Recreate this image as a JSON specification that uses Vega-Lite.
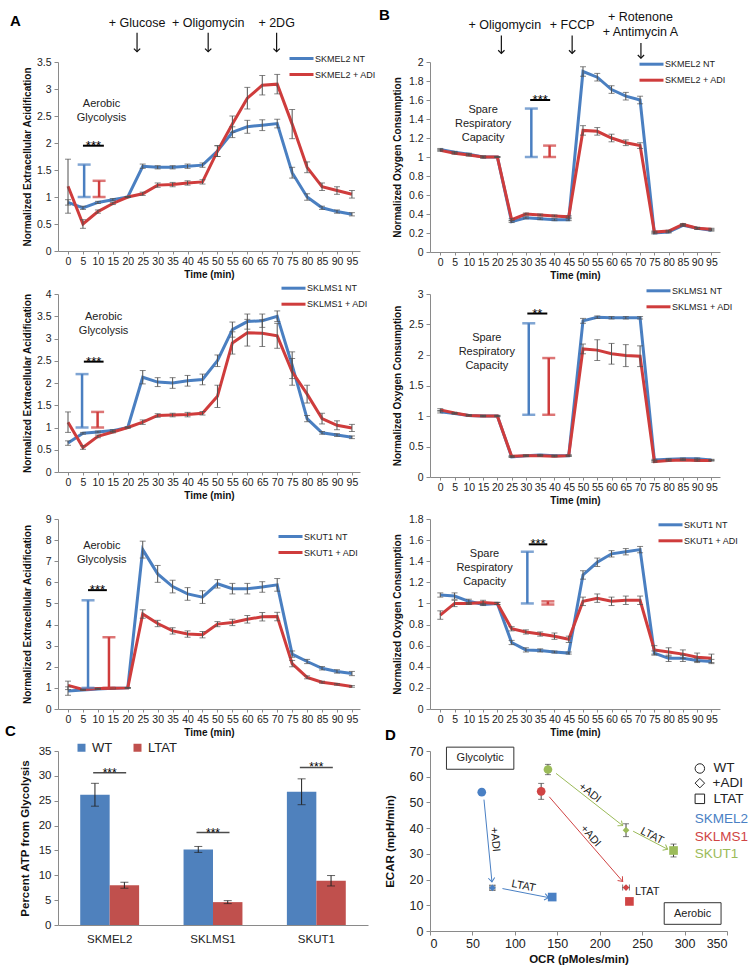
{
"$schema": "https://vega.github.io/schema/vega-lite/v6.json",
"padding": {"left": 5, "top": 8, "right": 0, "bottom": 0},
"columns": 2,
"bounds": "flush",
"align": "each",
"spacing": {"row": 42, "column": 62},
"resolve": {"scale": {"color": "independent"}, "legend": {"color": "independent"}},
"config": {
 "font": "Liberation Sans",
 "view": {"stroke": null},
 "axis": {"grid": false, "domainColor": "#8a8a8a", "tickColor": "#8a8a8a", "labelColor": "#222222", "titleColor": "#111111", "titleFontWeight": "bold", "labelFont": "Liberation Sans", "titleFont": "Liberation Sans", "labelOverlap": false},
 "legend": {"labelFont": "Liberation Sans", "labelColor": "#222222"},
 "title": {"font": "Liberation Sans", "fontWeight": "bold", "fontSize": 15, "color": "#000000", "anchor": "start", "frame": "group"}
},
"datasets": {
 "a1": [
  {"t":0,"s":"NT","v":0.9,"e":0.05},{"t":5,"s":"NT","v":0.8,"e":0.03},{"t":10,"s":"NT","v":0.9,"e":0.02},{"t":15,"s":"NT","v":0.95,"e":0.02},{"t":20,"s":"NT","v":1.0,"e":0.01},{"t":25,"s":"NT","v":1.57,"e":0.04},{"t":30,"s":"NT","v":1.55,"e":0.03},{"t":35,"s":"NT","v":1.55,"e":0.03},{"t":40,"s":"NT","v":1.57,"e":0.04},{"t":45,"s":"NT","v":1.59,"e":0.04},{"t":50,"s":"NT","v":1.85,"e":0.1},{"t":55,"s":"NT","v":2.2,"e":0.1},{"t":60,"s":"NT","v":2.3,"e":0.12},{"t":65,"s":"NT","v":2.33,"e":0.1},{"t":70,"s":"NT","v":2.36,"e":0.08},{"t":75,"s":"NT","v":1.45,"e":0.1},{"t":80,"s":"NT","v":1.0,"e":0.06},{"t":85,"s":"NT","v":0.8,"e":0.03},{"t":90,"s":"NT","v":0.73,"e":0.03},{"t":95,"s":"NT","v":0.68,"e":0.03},
  {"t":0,"s":"+ ADI","v":1.2,"e":0.5},{"t":5,"s":"+ ADI","v":0.5,"e":0.08},{"t":10,"s":"+ ADI","v":0.73,"e":0.03},{"t":15,"s":"+ ADI","v":0.88,"e":0.02},{"t":20,"s":"+ ADI","v":1.0,"e":0.01},{"t":25,"s":"+ ADI","v":1.06,"e":0.03},{"t":30,"s":"+ ADI","v":1.22,"e":0.04},{"t":35,"s":"+ ADI","v":1.23,"e":0.04},{"t":40,"s":"+ ADI","v":1.26,"e":0.04},{"t":45,"s":"+ ADI","v":1.28,"e":0.04},{"t":50,"s":"+ ADI","v":1.85,"e":0.1},{"t":55,"s":"+ ADI","v":2.35,"e":0.15},{"t":60,"s":"+ ADI","v":2.83,"e":0.2},{"t":65,"s":"+ ADI","v":3.07,"e":0.18},{"t":70,"s":"+ ADI","v":3.09,"e":0.18},{"t":75,"s":"+ ADI","v":2.35,"e":0.27},{"t":80,"s":"+ ADI","v":1.55,"e":0.1},{"t":85,"s":"+ ADI","v":1.19,"e":0.07},{"t":90,"s":"+ ADI","v":1.12,"e":0.07},{"t":95,"s":"+ ADI","v":1.05,"e":0.07}
 ],
 "a2": [
  {"t":0,"s":"NT","v":0.65,"e":0.05},{"t":5,"s":"NT","v":0.87,"e":0.02},{"t":10,"s":"NT","v":0.9,"e":0.02},{"t":15,"s":"NT","v":0.93,"e":0.02},{"t":20,"s":"NT","v":1.0,"e":0.01},{"t":25,"s":"NT","v":2.13,"e":0.15},{"t":30,"s":"NT","v":2.02,"e":0.1},{"t":35,"s":"NT","v":2.0,"e":0.12},{"t":40,"s":"NT","v":2.05,"e":0.12},{"t":45,"s":"NT","v":2.08,"e":0.12},{"t":50,"s":"NT","v":2.5,"e":0.13},{"t":55,"s":"NT","v":3.2,"e":0.17},{"t":60,"s":"NT","v":3.38,"e":0.17},{"t":65,"s":"NT","v":3.4,"e":0.15},{"t":70,"s":"NT","v":3.5,"e":0.12},{"t":75,"s":"NT","v":2.4,"e":0.3},{"t":80,"s":"NT","v":1.2,"e":0.07},{"t":85,"s":"NT","v":0.88,"e":0.03},{"t":90,"s":"NT","v":0.83,"e":0.03},{"t":95,"s":"NT","v":0.78,"e":0.03},
  {"t":0,"s":"+ ADI","v":1.12,"e":0.23},{"t":5,"s":"+ ADI","v":0.55,"e":0.04},{"t":10,"s":"+ ADI","v":0.8,"e":0.03},{"t":15,"s":"+ ADI","v":0.9,"e":0.02},{"t":20,"s":"+ ADI","v":1.0,"e":0.01},{"t":25,"s":"+ ADI","v":1.12,"e":0.05},{"t":30,"s":"+ ADI","v":1.27,"e":0.04},{"t":35,"s":"+ ADI","v":1.28,"e":0.04},{"t":40,"s":"+ ADI","v":1.29,"e":0.05},{"t":45,"s":"+ ADI","v":1.32,"e":0.04},{"t":50,"s":"+ ADI","v":1.7,"e":0.25},{"t":55,"s":"+ ADI","v":2.9,"e":0.25},{"t":60,"s":"+ ADI","v":3.13,"e":0.3},{"t":65,"s":"+ ADI","v":3.12,"e":0.3},{"t":70,"s":"+ ADI","v":3.06,"e":0.28},{"t":75,"s":"+ ADI","v":2.25,"e":0.3},{"t":80,"s":"+ ADI","v":1.75,"e":0.2},{"t":85,"s":"+ ADI","v":1.2,"e":0.12},{"t":90,"s":"+ ADI","v":1.05,"e":0.1},{"t":95,"s":"+ ADI","v":0.99,"e":0.08}
 ],
 "a3": [
  {"t":0,"s":"NT","v":0.85,"e":0.2},{"t":5,"s":"NT","v":0.9,"e":0.02},{"t":10,"s":"NT","v":0.95,"e":0.02},{"t":15,"s":"NT","v":0.98,"e":0.02},{"t":20,"s":"NT","v":1.0,"e":0.02},{"t":25,"s":"NT","v":7.55,"e":0.4},{"t":30,"s":"NT","v":6.4,"e":0.4},{"t":35,"s":"NT","v":5.8,"e":0.3},{"t":40,"s":"NT","v":5.45,"e":0.3},{"t":45,"s":"NT","v":5.3,"e":0.3},{"t":50,"s":"NT","v":5.93,"e":0.2},{"t":55,"s":"NT","v":5.7,"e":0.25},{"t":60,"s":"NT","v":5.7,"e":0.25},{"t":65,"s":"NT","v":5.78,"e":0.25},{"t":70,"s":"NT","v":5.88,"e":0.3},{"t":75,"s":"NT","v":2.6,"e":0.15},{"t":80,"s":"NT","v":2.25,"e":0.1},{"t":85,"s":"NT","v":1.93,"e":0.08},{"t":90,"s":"NT","v":1.78,"e":0.08},{"t":95,"s":"NT","v":1.68,"e":0.1},
  {"t":0,"s":"+ ADI","v":1.12,"e":0.2},{"t":5,"s":"+ ADI","v":0.93,"e":0.02},{"t":10,"s":"+ ADI","v":0.97,"e":0.02},{"t":15,"s":"+ ADI","v":0.98,"e":0.02},{"t":20,"s":"+ ADI","v":1.0,"e":0.02},{"t":25,"s":"+ ADI","v":4.5,"e":0.2},{"t":30,"s":"+ ADI","v":4.05,"e":0.15},{"t":35,"s":"+ ADI","v":3.7,"e":0.15},{"t":40,"s":"+ ADI","v":3.55,"e":0.15},{"t":45,"s":"+ ADI","v":3.52,"e":0.15},{"t":50,"s":"+ ADI","v":4.02,"e":0.12},{"t":55,"s":"+ ADI","v":4.1,"e":0.15},{"t":60,"s":"+ ADI","v":4.25,"e":0.18},{"t":65,"s":"+ ADI","v":4.37,"e":0.2},{"t":70,"s":"+ ADI","v":4.38,"e":0.2},{"t":75,"s":"+ ADI","v":2.15,"e":0.15},{"t":80,"s":"+ ADI","v":1.5,"e":0.07},{"t":85,"s":"+ ADI","v":1.27,"e":0.05},{"t":90,"s":"+ ADI","v":1.17,"e":0.04},{"t":95,"s":"+ ADI","v":1.07,"e":0.04}
 ],
 "b1": [
  {"t":0,"s":"NT","v":1.08,"e":0.01},{"t":5,"s":"NT","v":1.05,"e":0.01},{"t":10,"s":"NT","v":1.03,"e":0.01},{"t":15,"s":"NT","v":1.0,"e":0.01},{"t":20,"s":"NT","v":1.0,"e":0.005},{"t":25,"s":"NT","v":0.32,"e":0.01},{"t":30,"s":"NT","v":0.36,"e":0.01},{"t":35,"s":"NT","v":0.35,"e":0.01},{"t":40,"s":"NT","v":0.34,"e":0.01},{"t":45,"s":"NT","v":0.34,"e":0.01},{"t":50,"s":"NT","v":1.9,"e":0.05},{"t":55,"s":"NT","v":1.84,"e":0.04},{"t":60,"s":"NT","v":1.71,"e":0.04},{"t":65,"s":"NT","v":1.64,"e":0.04},{"t":70,"s":"NT","v":1.6,"e":0.04},{"t":75,"s":"NT","v":0.2,"e":0.01},{"t":80,"s":"NT","v":0.21,"e":0.01},{"t":85,"s":"NT","v":0.28,"e":0.01},{"t":90,"s":"NT","v":0.25,"e":0.01},{"t":95,"s":"NT","v":0.23,"e":0.01},
  {"t":0,"s":"+ ADI","v":1.07,"e":0.01},{"t":5,"s":"+ ADI","v":1.04,"e":0.01},{"t":10,"s":"+ ADI","v":1.02,"e":0.01},{"t":15,"s":"+ ADI","v":1.0,"e":0.01},{"t":20,"s":"+ ADI","v":1.0,"e":0.005},{"t":25,"s":"+ ADI","v":0.34,"e":0.01},{"t":30,"s":"+ ADI","v":0.4,"e":0.01},{"t":35,"s":"+ ADI","v":0.39,"e":0.01},{"t":40,"s":"+ ADI","v":0.38,"e":0.01},{"t":45,"s":"+ ADI","v":0.37,"e":0.01},{"t":50,"s":"+ ADI","v":1.28,"e":0.05},{"t":55,"s":"+ ADI","v":1.27,"e":0.04},{"t":60,"s":"+ ADI","v":1.2,"e":0.04},{"t":65,"s":"+ ADI","v":1.15,"e":0.03},{"t":70,"s":"+ ADI","v":1.12,"e":0.03},{"t":75,"s":"+ ADI","v":0.21,"e":0.01},{"t":80,"s":"+ ADI","v":0.22,"e":0.01},{"t":85,"s":"+ ADI","v":0.29,"e":0.01},{"t":90,"s":"+ ADI","v":0.25,"e":0.01},{"t":95,"s":"+ ADI","v":0.24,"e":0.01}
 ],
 "b2": [
  {"t":0,"s":"NT","v":1.07,"e":0.02},{"t":5,"s":"NT","v":1.04,"e":0.01},{"t":10,"s":"NT","v":1.01,"e":0.01},{"t":15,"s":"NT","v":1.0,"e":0.01},{"t":20,"s":"NT","v":1.0,"e":0.01},{"t":25,"s":"NT","v":0.33,"e":0.01},{"t":30,"s":"NT","v":0.35,"e":0.01},{"t":35,"s":"NT","v":0.36,"e":0.01},{"t":40,"s":"NT","v":0.35,"e":0.01},{"t":45,"s":"NT","v":0.35,"e":0.01},{"t":50,"s":"NT","v":2.56,"e":0.04},{"t":55,"s":"NT","v":2.62,"e":0.02},{"t":60,"s":"NT","v":2.61,"e":0.02},{"t":65,"s":"NT","v":2.61,"e":0.02},{"t":70,"s":"NT","v":2.61,"e":0.02},{"t":75,"s":"NT","v":0.28,"e":0.01},{"t":80,"s":"NT","v":0.29,"e":0.01},{"t":85,"s":"NT","v":0.3,"e":0.01},{"t":90,"s":"NT","v":0.3,"e":0.01},{"t":95,"s":"NT","v":0.28,"e":0.01},
  {"t":0,"s":"+ ADI","v":1.1,"e":0.02},{"t":5,"s":"+ ADI","v":1.05,"e":0.01},{"t":10,"s":"+ ADI","v":1.01,"e":0.01},{"t":15,"s":"+ ADI","v":1.0,"e":0.01},{"t":20,"s":"+ ADI","v":1.0,"e":0.01},{"t":25,"s":"+ ADI","v":0.34,"e":0.01},{"t":30,"s":"+ ADI","v":0.35,"e":0.01},{"t":35,"s":"+ ADI","v":0.35,"e":0.01},{"t":40,"s":"+ ADI","v":0.34,"e":0.01},{"t":45,"s":"+ ADI","v":0.35,"e":0.01},{"t":50,"s":"+ ADI","v":2.1,"e":0.08},{"t":55,"s":"+ ADI","v":2.08,"e":0.17},{"t":60,"s":"+ ADI","v":2.02,"e":0.17},{"t":65,"s":"+ ADI","v":1.99,"e":0.18},{"t":70,"s":"+ ADI","v":1.98,"e":0.17},{"t":75,"s":"+ ADI","v":0.25,"e":0.01},{"t":80,"s":"+ ADI","v":0.27,"e":0.01},{"t":85,"s":"+ ADI","v":0.28,"e":0.01},{"t":90,"s":"+ ADI","v":0.27,"e":0.01},{"t":95,"s":"+ ADI","v":0.27,"e":0.01}
 ],
 "b3": [
  {"t":0,"s":"NT","v":1.08,"e":0.02},{"t":5,"s":"NT","v":1.07,"e":0.03},{"t":10,"s":"NT","v":1.02,"e":0.02},{"t":15,"s":"NT","v":0.99,"e":0.01},{"t":20,"s":"NT","v":1.0,"e":0.01},{"t":25,"s":"NT","v":0.63,"e":0.02},{"t":30,"s":"NT","v":0.56,"e":0.02},{"t":35,"s":"NT","v":0.555,"e":0.015},{"t":40,"s":"NT","v":0.54,"e":0.01},{"t":45,"s":"NT","v":0.53,"e":0.01},{"t":50,"s":"NT","v":1.27,"e":0.04},{"t":55,"s":"NT","v":1.39,"e":0.04},{"t":60,"s":"NT","v":1.47,"e":0.03},{"t":65,"s":"NT","v":1.49,"e":0.03},{"t":70,"s":"NT","v":1.51,"e":0.03},{"t":75,"s":"NT","v":0.53,"e":0.02},{"t":80,"s":"NT","v":0.48,"e":0.03},{"t":85,"s":"NT","v":0.48,"e":0.03},{"t":90,"s":"NT","v":0.46,"e":0.02},{"t":95,"s":"NT","v":0.45,"e":0.02},
  {"t":0,"s":"+ ADI","v":0.89,"e":0.04},{"t":5,"s":"+ ADI","v":1.0,"e":0.03},{"t":10,"s":"+ ADI","v":1.0,"e":0.01},{"t":15,"s":"+ ADI","v":1.01,"e":0.02},{"t":20,"s":"+ ADI","v":1.0,"e":0.01},{"t":25,"s":"+ ADI","v":0.76,"e":0.02},{"t":30,"s":"+ ADI","v":0.73,"e":0.02},{"t":35,"s":"+ ADI","v":0.71,"e":0.02},{"t":40,"s":"+ ADI","v":0.69,"e":0.03},{"t":45,"s":"+ ADI","v":0.66,"e":0.03},{"t":50,"s":"+ ADI","v":1.02,"e":0.04},{"t":55,"s":"+ ADI","v":1.05,"e":0.04},{"t":60,"s":"+ ADI","v":1.02,"e":0.04},{"t":65,"s":"+ ADI","v":1.03,"e":0.04},{"t":70,"s":"+ ADI","v":1.03,"e":0.04},{"t":75,"s":"+ ADI","v":0.56,"e":0.04},{"t":80,"s":"+ ADI","v":0.54,"e":0.04},{"t":85,"s":"+ ADI","v":0.52,"e":0.04},{"t":90,"s":"+ ADI","v":0.49,"e":0.04},{"t":95,"s":"+ ADI","v":0.48,"e":0.04}
 ],
 "c": [
  {"cat":"SKMEL2","g":"WT","v":26.2,"e":2.3},{"cat":"SKMEL2","g":"LTAT","v":8.0,"e":0.6},
  {"cat":"SKLMS1","g":"WT","v":15.2,"e":0.6},{"cat":"SKLMS1","g":"LTAT","v":4.6,"e":0.3},
  {"cat":"SKUT1","g":"WT","v":26.8,"e":2.6},{"cat":"SKUT1","g":"LTAT","v":8.9,"e":1.05}
 ],
 "d": [
  {"cell":"SKMEL2","cond":"WT","x":61,"y":54,"xe":0,"ye":0},
  {"cell":"SKMEL2","cond":"+ADI","x":73.5,"y":16.8,"xe":3,"ye":1},
  {"cell":"SKMEL2","cond":"LTAT","x":144,"y":13.2,"xe":0,"ye":0},
  {"cell":"SKLMS1","cond":"WT","x":131,"y":54.3,"xe":0,"ye":3.1},
  {"cell":"SKLMS1","cond":"+ADI","x":231,"y":16.9,"xe":4,"ye":0},
  {"cell":"SKLMS1","cond":"LTAT","x":235,"y":11.5,"xe":0,"ye":0},
  {"cell":"SKUT1","cond":"WT","x":139,"y":62.8,"xe":0,"ye":2},
  {"cell":"SKUT1","cond":"+ADI","x":231,"y":39.2,"xe":0,"ye":2.5},
  {"cell":"SKUT1","cond":"LTAT","x":287,"y":31.3,"xe":0,"ye":2.5}
 ]
},
"concat": [
 {
  "width": 302, "height": 189,
  "title": {"text": "A", "dx": -48, "offset": -12},
  "layer": [
   {"data": {"name": "a1"}, "mark": {"type": "line", "strokeWidth": 3},
    "encoding": {
     "x": {"field": "t", "type": "quantitative", "scale": {"domain": [-3.35, 97.7], "nice": false, "zero": false}, "axis": {"values": [0,5,10,15,20,25,30,35,40,45,50,55,60,65,70,75,80,85,90,95], "tickCount": 100, "title": "Time (min)", "labelOverlap": false, "labelFontSize": 10.5, "titleFontSize": 10, "tickSize": 3, "labelPadding": 2, "titlePadding": 3}},
     "y": {"field": "v", "type": "quantitative", "scale": {"domain": [0, 3.5], "nice": false}, "axis": {"values": [0,0.5,1,1.5,2,2.5,3,3.5], "tickCount": 100, "format": "~g", "title": "Normalized Extracellular Acidification", "labelOverlap": false, "titleX": -26, "labelFontSize": 10.5, "titleFontSize": 10, "tickSize": 4, "labelPadding": 3}},
     "color": {"field": "s", "type": "nominal", "scale": {"domain": ["NT", "+ ADI"], "range": ["#4a7fc1", "#cf3c3c"]}, "legend": {"orient": "none", "legendX": 238, "legendY": -9, "title": null, "symbolType": "M-3,0H3", "symbolSize": 64, "symbolStrokeWidth": 3, "labelFontSize": 9, "labelOffset": 8, "rowPadding": 3, "padding": 0, "labelExpr": "'SKMEL2 ' + datum.label"}}
    }},
   {"data": {"name": "a1"}, "mark": {"type": "errorbar", "ticks": true, "size": 6, "thickness": 1, "color": "#505050"},
    "encoding": {"x": {"field": "t", "type": "quantitative"}, "y": {"field": "v", "type": "quantitative", "title": "Normalized Extracellular Acidification"}, "yError": {"field": "e"}}},
   {"data": {"values": [{"t":5.4,"s":"NT","lo":1,"hi":1.6},{"t":10.4,"s":"+ ADI","lo":1,"hi":1.3}]},
    "mark": {"type": "errorbar", "ticks": true, "size": 13, "thickness": 2.5},
    "encoding": {"x": {"field": "t", "type": "quantitative"}, "y": {"field": "lo", "type": "quantitative", "title": "Normalized Extracellular Acidification"}, "y2": {"field": "hi"}, "color": {"field": "s", "type": "nominal", "legend": null}}},
   {"data": {"values": [{"t1":5,"t2":12,"tm":8.5,"y":1.95,"txt":"***"}]},
    "layer": [
     {"mark": {"type": "rule", "strokeWidth": 2, "color": "#000000"}, "encoding": {"x": {"field": "t1", "type": "quantitative"}, "x2": {"field": "t2"}, "y": {"field": "y", "type": "quantitative"}}},
     {"mark": {"type": "text", "fontSize": 13, "baseline": "alphabetic", "dy": 4, "color": "#000000"}, "encoding": {"x": {"field": "tm", "type": "quantitative"}, "y": {"field": "y", "type": "quantitative"}, "text": {"field": "txt"}}}
    ]},
   {"data": {"values": [{"t":11.2,"y":2.84,"txt":"Aerobic\nGlycolysis"}]},
    "mark": {"type": "text", "fontSize": 11, "lineBreak": "\n", "lineHeight": 14, "baseline": "top", "color": "#222222"},
    "encoding": {"x": {"field": "t", "type": "quantitative"}, "y": {"field": "y", "type": "quantitative"}, "text": {"field": "txt"}}},
   {"data": {"values": [{"t":23.1,"y":4.23,"txt":"+ Glucose"},{"t":46.9,"y":4.23,"txt":"+ Oligomycin"},{"t":69.8,"y":4.23,"txt":"+ 2DG"}]},
    "mark": {"type": "text", "fontSize": 12.5, "color": "#111111"},
    "encoding": {"x": {"field": "t", "type": "quantitative"}, "y": {"field": "y", "type": "quantitative"}, "text": {"field": "txt"}}},
   {"data": {"values": [{"t":23.1,"y1":4.04,"y2":3.69},{"t":46.9,"y1":4.04,"y2":3.69},{"t":69.8,"y1":4.04,"y2":3.69}]},
    "layer": [
     {"mark": {"type": "rule", "strokeWidth": 1.2, "color": "#111111"}, "encoding": {"x": {"field": "t", "type": "quantitative"}, "y": {"field": "y1", "type": "quantitative"}, "y2": {"field": "y2"}}},
     {"mark": {"type": "point", "shape": "M-1,-1L0,0L-1,1", "filled": false, "size": 40, "angle": 90, "strokeWidth": 1.2, "color": "#111111", "opacity": 1}, "encoding": {"x": {"field": "t", "type": "quantitative"}, "y": {"field": "y2", "type": "quantitative"}}}
    ]}
  ]
 },
 {
  "width": 290, "height": 190,
  "title": {"text": "B", "dx": -51, "offset": -12},
  "layer": [
   {"data": {"name": "b1"}, "mark": {"type": "line", "strokeWidth": 3},
    "encoding": {
     "x": {"field": "t", "type": "quantitative", "scale": {"domain": [-3.6, 98], "nice": false, "zero": false}, "axis": {"values": [0,5,10,15,20,25,30,35,40,45,50,55,60,65,70,75,80,85,90,95], "tickCount": 100, "title": "Time (min)", "labelOverlap": false, "labelFontSize": 10.5, "titleFontSize": 10, "tickSize": 3, "labelPadding": 2, "titlePadding": 3}},
     "y": {"field": "v", "type": "quantitative", "scale": {"domain": [0, 2], "nice": false}, "axis": {"values": [0,0.2,0.4,0.6,0.8,1,1.2,1.4,1.6,1.8,2], "tickCount": 100, "format": "~g", "title": "Normalized Oxygen Consumption", "labelOverlap": false, "titleX": -28, "labelFontSize": 10.5, "titleFontSize": 10, "tickSize": 4, "labelPadding": 3}},
     "color": {"field": "s", "type": "nominal", "scale": {"domain": ["NT", "+ ADI"], "range": ["#4a7fc1", "#cf3c3c"]}, "legend": {"orient": "none", "legendX": 216, "legendY": -3.3, "title": null, "symbolType": "M-3,0H3", "symbolSize": 64, "symbolStrokeWidth": 3, "labelFontSize": 9, "labelOffset": 8, "rowPadding": 3, "padding": 0, "labelExpr": "'SKMEL2 ' + datum.label"}}
    }},
   {"data": {"name": "b1"}, "mark": {"type": "errorbar", "ticks": true, "size": 6, "thickness": 1, "color": "#505050"},
    "encoding": {"x": {"field": "t", "type": "quantitative"}, "y": {"field": "v", "type": "quantitative", "title": "Normalized Oxygen Consumption"}, "yError": {"field": "e"}}},
   {"data": {"values": [{"t":31.9,"s":"NT","lo":1,"hi":1.51},{"t":38.3,"s":"+ ADI","lo":1,"hi":1.12}]},
    "mark": {"type": "errorbar", "ticks": true, "size": 13, "thickness": 2.5},
    "encoding": {"x": {"field": "t", "type": "quantitative"}, "y": {"field": "lo", "type": "quantitative", "title": "Normalized Oxygen Consumption"}, "y2": {"field": "hi"}, "color": {"field": "s", "type": "nominal", "legend": null}}},
   {"data": {"values": [{"t1":31.5,"t2":38.5,"tm":35,"y":1.6,"txt":"***"}]},
    "layer": [
     {"mark": {"type": "rule", "strokeWidth": 2, "color": "#000000"}, "encoding": {"x": {"field": "t1", "type": "quantitative"}, "x2": {"field": "t2"}, "y": {"field": "y", "type": "quantitative"}}},
     {"mark": {"type": "text", "fontSize": 13, "baseline": "alphabetic", "dy": 4, "color": "#000000"}, "encoding": {"x": {"field": "tm", "type": "quantitative"}, "y": {"field": "y", "type": "quantitative"}, "text": {"field": "txt"}}}
    ]},
   {"data": {"values": [{"t":15,"y":1.553,"txt":"Spare\nRespiratory\nCapacity"}]},
    "mark": {"type": "text", "fontSize": 11, "lineBreak": "\n", "lineHeight": 14, "baseline": "top", "color": "#222222"},
    "encoding": {"x": {"field": "t", "type": "quantitative"}, "y": {"field": "y", "type": "quantitative"}, "text": {"field": "txt"}}},
   {"data": {"values": [{"t":22.6,"y":2.39,"txt":"+ Oligomycin"},{"t":46.2,"y":2.39,"txt":"+ FCCP"},{"t":70.1,"y":2.47,"txt":"+ Rotenone"},{"t":70.1,"y":2.32,"txt":"+ Antimycin A"}]},
    "mark": {"type": "text", "fontSize": 12.5, "color": "#111111"},
    "encoding": {"x": {"field": "t", "type": "quantitative"}, "y": {"field": "y", "type": "quantitative"}, "text": {"field": "txt"}}},
   {"data": {"values": [{"t":21.4,"y1":2.28,"y2":2.09},{"t":46.2,"y1":2.28,"y2":2.09},{"t":70.3,"y1":2.2,"y2":2.04}]},
    "layer": [
     {"mark": {"type": "rule", "strokeWidth": 1.2, "color": "#111111"}, "encoding": {"x": {"field": "t", "type": "quantitative"}, "y": {"field": "y1", "type": "quantitative"}, "y2": {"field": "y2"}}},
     {"mark": {"type": "point", "shape": "M-1,-1L0,0L-1,1", "filled": false, "size": 40, "angle": 90, "strokeWidth": 1.2, "color": "#111111", "opacity": 1}, "encoding": {"x": {"field": "t", "type": "quantitative"}, "y": {"field": "y2", "type": "quantitative"}}}
    ]}
  ]
 },
 {
  "width": 302, "height": 178,
  "layer": [
   {"data": {"name": "a2"}, "mark": {"type": "line", "strokeWidth": 3},
    "encoding": {
     "x": {"field": "t", "type": "quantitative", "scale": {"domain": [-3.35, 97.7], "nice": false, "zero": false}, "axis": {"values": [0,5,10,15,20,25,30,35,40,45,50,55,60,65,70,75,80,85,90,95], "tickCount": 100, "title": "Time (min)", "labelOverlap": false, "labelFontSize": 10.5, "titleFontSize": 10, "tickSize": 3, "labelPadding": 2, "titlePadding": 3}},
     "y": {"field": "v", "type": "quantitative", "scale": {"domain": [0, 4], "nice": false}, "axis": {"values": [0,0.5,1,1.5,2,2.5,3,3.5,4], "tickCount": 100, "format": "~g", "title": "Normalized Extracellular Acidification", "labelOverlap": false, "titleX": -26, "labelFontSize": 10.5, "titleFontSize": 10, "tickSize": 4, "labelPadding": 3}},
     "color": {"field": "s", "type": "nominal", "scale": {"domain": ["NT", "+ ADI"], "range": ["#4a7fc1", "#cf3c3c"]}, "legend": {"orient": "none", "legendX": 230, "legendY": -11.3, "title": null, "symbolType": "M-3,0H3", "symbolSize": 64, "symbolStrokeWidth": 3, "labelFontSize": 9, "labelOffset": 8, "rowPadding": 3, "padding": 0, "labelExpr": "'SKLMS1 ' + datum.label"}}
    }},
   {"data": {"name": "a2"}, "mark": {"type": "errorbar", "ticks": true, "size": 6, "thickness": 1, "color": "#505050"},
    "encoding": {"x": {"field": "t", "type": "quantitative"}, "y": {"field": "v", "type": "quantitative", "title": "Normalized Extracellular Acidification"}, "yError": {"field": "e"}}},
   {"data": {"values": [{"t":4.7,"s":"NT","lo":1,"hi":2.2},{"t":9.9,"s":"+ ADI","lo":1,"hi":1.35}]},
    "mark": {"type": "errorbar", "ticks": true, "size": 13, "thickness": 2.5},
    "encoding": {"x": {"field": "t", "type": "quantitative"}, "y": {"field": "lo", "type": "quantitative", "title": "Normalized Extracellular Acidification"}, "y2": {"field": "hi"}, "color": {"field": "s", "type": "nominal", "legend": null}}},
   {"data": {"values": [{"t1":5.3,"t2":11.9,"tm":8.6,"y":2.48,"txt":"***"}]},
    "layer": [
     {"mark": {"type": "rule", "strokeWidth": 2, "color": "#000000"}, "encoding": {"x": {"field": "t1", "type": "quantitative"}, "x2": {"field": "t2"}, "y": {"field": "y", "type": "quantitative"}}},
     {"mark": {"type": "text", "fontSize": 13, "baseline": "alphabetic", "dy": 4, "color": "#000000"}, "encoding": {"x": {"field": "tm", "type": "quantitative"}, "y": {"field": "y", "type": "quantitative"}, "text": {"field": "txt"}}}
    ]},
   {"data": {"values": [{"t":11.9,"y":3.62,"txt":"Aerobic\nGlycolysis"}]},
    "mark": {"type": "text", "fontSize": 11, "lineBreak": "\n", "lineHeight": 14, "baseline": "top", "color": "#222222"},
    "encoding": {"x": {"field": "t", "type": "quantitative"}, "y": {"field": "y", "type": "quantitative"}, "text": {"field": "txt"}}}
  ]
 },
 {
  "width": 290, "height": 183,
  "layer": [
   {"data": {"name": "b2"}, "mark": {"type": "line", "strokeWidth": 3},
    "encoding": {
     "x": {"field": "t", "type": "quantitative", "scale": {"domain": [-3.6, 98], "nice": false, "zero": false}, "axis": {"values": [0,5,10,15,20,25,30,35,40,45,50,55,60,65,70,75,80,85,90,95], "tickCount": 100, "title": "Time (min)", "labelOverlap": false, "labelFontSize": 10.5, "titleFontSize": 10, "tickSize": 3, "labelPadding": 2, "titlePadding": 3}},
     "y": {"field": "v", "type": "quantitative", "scale": {"domain": [0, 3], "nice": false}, "axis": {"values": [0,0.5,1,1.5,2,2.5,3], "tickCount": 100, "format": "~g", "title": "Normalized Oxygen Consumption", "labelOverlap": false, "titleX": -28, "labelFontSize": 10.5, "titleFontSize": 10, "tickSize": 4, "labelPadding": 3}},
     "color": {"field": "s", "type": "nominal", "scale": {"domain": ["NT", "+ ADI"], "range": ["#4a7fc1", "#cf3c3c"]}, "legend": {"orient": "none", "legendX": 223, "legendY": -8.7, "title": null, "symbolType": "M-3,0H3", "symbolSize": 64, "symbolStrokeWidth": 3, "labelFontSize": 9, "labelOffset": 8, "rowPadding": 3, "padding": 0, "labelExpr": "'SKLMS1 ' + datum.label"}}
    }},
   {"data": {"name": "b2"}, "mark": {"type": "errorbar", "ticks": true, "size": 6, "thickness": 1, "color": "#505050"},
    "encoding": {"x": {"field": "t", "type": "quantitative"}, "y": {"field": "v", "type": "quantitative", "title": "Normalized Oxygen Consumption"}, "yError": {"field": "e"}}},
   {"data": {"values": [{"t":31,"s":"NT","lo":1.02,"hi":2.52},{"t":38,"s":"+ ADI","lo":1.02,"hi":1.95}]},
    "mark": {"type": "errorbar", "ticks": true, "size": 13, "thickness": 2.5},
    "encoding": {"x": {"field": "t", "type": "quantitative"}, "y": {"field": "lo", "type": "quantitative", "title": "Normalized Oxygen Consumption"}, "y2": {"field": "hi"}, "color": {"field": "s", "type": "nominal", "legend": null}}},
   {"data": {"values": [{"t1":30.5,"t2":37.5,"tm":34,"y":2.68,"txt":"**"}]},
    "layer": [
     {"mark": {"type": "rule", "strokeWidth": 2, "color": "#000000"}, "encoding": {"x": {"field": "t1", "type": "quantitative"}, "x2": {"field": "t2"}, "y": {"field": "y", "type": "quantitative"}}},
     {"mark": {"type": "text", "fontSize": 13, "baseline": "alphabetic", "dy": 4, "color": "#000000"}, "encoding": {"x": {"field": "tm", "type": "quantitative"}, "y": {"field": "y", "type": "quantitative"}, "text": {"field": "txt"}}}
    ]},
   {"data": {"values": [{"t":16.3,"y":2.37,"txt":"Spare\nRespiratory\nCapacity"}]},
    "mark": {"type": "text", "fontSize": 11, "lineBreak": "\n", "lineHeight": 14, "baseline": "top", "color": "#222222"},
    "encoding": {"x": {"field": "t", "type": "quantitative"}, "y": {"field": "y", "type": "quantitative"}, "text": {"field": "txt"}}}
  ]
 },
 {
  "width": 302, "height": 190,
  "layer": [
   {"data": {"name": "a3"}, "mark": {"type": "line", "strokeWidth": 3},
    "encoding": {
     "x": {"field": "t", "type": "quantitative", "scale": {"domain": [-3.35, 97.7], "nice": false, "zero": false}, "axis": {"values": [0,5,10,15,20,25,30,35,40,45,50,55,60,65,70,75,80,85,90,95], "tickCount": 100, "title": "Time (min)", "labelOverlap": false, "labelFontSize": 10.5, "titleFontSize": 10, "tickSize": 3, "labelPadding": 2, "titlePadding": 3}},
     "y": {"field": "v", "type": "quantitative", "scale": {"domain": [0, 9], "nice": false}, "axis": {"values": [0,1,2,3,4,5,6,7,8,9], "tickCount": 100, "format": "~g", "title": "Normalized Extracellular Acidification", "labelOverlap": false, "titleX": -26, "labelFontSize": 10.5, "titleFontSize": 10, "tickSize": 4, "labelPadding": 3}},
     "color": {"field": "s", "type": "nominal", "scale": {"domain": ["NT", "+ ADI"], "range": ["#4a7fc1", "#cf3c3c"]}, "legend": {"orient": "none", "legendX": 227, "legendY": 12, "title": null, "symbolType": "M-3,0H3", "symbolSize": 64, "symbolStrokeWidth": 3, "labelFontSize": 9, "labelOffset": 8, "rowPadding": 3, "padding": 0, "labelExpr": "'SKUT1 ' + datum.label"}}
    }},
   {"data": {"name": "a3"}, "mark": {"type": "errorbar", "ticks": true, "size": 6, "thickness": 1, "color": "#505050"},
    "encoding": {"x": {"field": "t", "type": "quantitative"}, "y": {"field": "v", "type": "quantitative", "title": "Normalized Extracellular Acidification"}, "yError": {"field": "e"}}},
   {"data": {"values": [{"t":6.7,"s":"NT","lo":1,"hi":5.15},{"t":13.7,"s":"+ ADI","lo":1,"hi":3.4}]},
    "mark": {"type": "errorbar", "ticks": true, "size": 13, "thickness": 2.5},
    "encoding": {"x": {"field": "t", "type": "quantitative"}, "y": {"field": "lo", "type": "quantitative", "title": "Normalized Extracellular Acidification"}, "y2": {"field": "hi"}, "color": {"field": "s", "type": "nominal", "legend": null}}},
   {"data": {"values": [{"t1":6.7,"t2":13,"tm":9.85,"y":5.63,"txt":"***"}]},
    "layer": [
     {"mark": {"type": "rule", "strokeWidth": 2, "color": "#000000"}, "encoding": {"x": {"field": "t1", "type": "quantitative"}, "x2": {"field": "t2"}, "y": {"field": "y", "type": "quantitative"}}},
     {"mark": {"type": "text", "fontSize": 13, "baseline": "alphabetic", "dy": 4, "color": "#000000"}, "encoding": {"x": {"field": "tm", "type": "quantitative"}, "y": {"field": "y", "type": "quantitative"}, "text": {"field": "txt"}}}
    ]},
   {"data": {"values": [{"t":11.3,"y":8.0,"txt":"Aerobic\nGlycolysis"}]},
    "mark": {"type": "text", "fontSize": 11, "lineBreak": "\n", "lineHeight": 14, "baseline": "top", "color": "#222222"},
    "encoding": {"x": {"field": "t", "type": "quantitative"}, "y": {"field": "y", "type": "quantitative"}, "text": {"field": "txt"}}}
  ]
 },
 {
  "width": 290, "height": 190,
  "layer": [
   {"data": {"name": "b3"}, "mark": {"type": "line", "strokeWidth": 3},
    "encoding": {
     "x": {"field": "t", "type": "quantitative", "scale": {"domain": [-3.6, 98], "nice": false, "zero": false}, "axis": {"values": [0,5,10,15,20,25,30,35,40,45,50,55,60,65,70,75,80,85,90,95], "tickCount": 100, "title": "Time (min)", "labelOverlap": false, "labelFontSize": 10.5, "titleFontSize": 10, "tickSize": 3, "labelPadding": 2, "titlePadding": 3}},
     "y": {"field": "v", "type": "quantitative", "scale": {"domain": [0, 1.8], "nice": false}, "axis": {"values": [0,0.2,0.4,0.6,0.8,1,1.2,1.4,1.6,1.8], "tickCount": 100, "format": "~g", "title": "Normalized Oxygen Consumption", "labelOverlap": false, "titleX": -28, "labelFontSize": 10.5, "titleFontSize": 10, "tickSize": 4, "labelPadding": 3}},
     "color": {"field": "s", "type": "nominal", "scale": {"domain": ["NT", "+ ADI"], "range": ["#4a7fc1", "#cf3c3c"]}, "legend": {"orient": "none", "legendX": 235, "legendY": 0.3, "title": null, "symbolType": "M-3,0H3", "symbolSize": 64, "symbolStrokeWidth": 3, "labelFontSize": 9, "labelOffset": 8, "rowPadding": 3, "padding": 0, "labelExpr": "'SKUT1 ' + datum.label"}}
    }},
   {"data": {"name": "b3"}, "mark": {"type": "errorbar", "ticks": true, "size": 6, "thickness": 1, "color": "#505050"},
    "encoding": {"x": {"field": "t", "type": "quantitative"}, "y": {"field": "v", "type": "quantitative", "title": "Normalized Oxygen Consumption"}, "yError": {"field": "e"}}},
   {"data": {"values": [{"t":30.5,"s":"NT","lo":1.0,"hi":1.49},{"t":37.7,"s":"+ ADI","lo":0.99,"hi":1.02}]},
    "mark": {"type": "errorbar", "ticks": true, "size": 13, "thickness": 2.5},
    "encoding": {"x": {"field": "t", "type": "quantitative"}, "y": {"field": "lo", "type": "quantitative", "title": "Normalized Oxygen Consumption"}, "y2": {"field": "hi"}, "color": {"field": "s", "type": "nominal", "legend": null}}},
   {"data": {"values": [{"t1":31,"t2":37.5,"tm":34.25,"y":1.56,"txt":"***"}]},
    "layer": [
     {"mark": {"type": "rule", "strokeWidth": 2, "color": "#000000"}, "encoding": {"x": {"field": "t1", "type": "quantitative"}, "x2": {"field": "t2"}, "y": {"field": "y", "type": "quantitative"}}},
     {"mark": {"type": "text", "fontSize": 13, "baseline": "alphabetic", "dy": 4, "color": "#000000"}, "encoding": {"x": {"field": "tm", "type": "quantitative"}, "y": {"field": "y", "type": "quantitative"}, "text": {"field": "txt"}}}
    ]},
   {"data": {"values": [{"t":15.5,"y":1.527,"txt":"Spare\nRespiratory\nCapacity"}]},
    "mark": {"type": "text", "fontSize": 11, "lineBreak": "\n", "lineHeight": 14, "baseline": "top", "color": "#222222"},
    "encoding": {"x": {"field": "t", "type": "quantitative"}, "y": {"field": "y", "type": "quantitative"}, "text": {"field": "txt"}}}
  ]
 },
 {
  "width": 310, "height": 174,
  "title": {"text": "C", "dx": -53, "offset": 2},
  "data": {"name": "c"},
  "layer": [
   {"mark": {"type": "bar"},
    "encoding": {
     "x": {"field": "cat", "type": "nominal", "sort": ["SKMEL2","SKLMS1","SKUT1"], "scale": {"paddingInner": 0.43, "paddingOuter": 0.215}, "axis": {"title": null, "labelAngle": 0, "labelFontSize": 11.5, "ticks": false, "labelPadding": 8, "labelOverlap": false}},
     "xOffset": {"field": "g", "type": "nominal", "sort": ["WT","LTAT"]},
     "y": {"field": "v", "type": "quantitative", "scale": {"domain": [0, 35], "nice": false}, "axis": {"values": [0,5,10,15,20,25,30,35], "tickCount": 100, "format": "~g", "title": "Percent ATP from Glycolysis", "labelOverlap": false, "titleX": -28, "titleFontSize": 11.5, "labelFontSize": 11.5, "tickSize": 4, "labelPadding": 3}},
     "color": {"field": "g", "type": "nominal", "scale": {"domain": ["WT","LTAT"], "range": ["#4f81bd","#c0504d"]}, "legend": {"orient": "none", "legendX": 17, "legendY": -10, "direction": "horizontal", "title": null, "symbolType": "square", "symbolSize": 64, "symbolStrokeWidth": 0, "labelFontSize": 13, "columnPadding": 18, "labelOffset": 4, "padding": 0}}
    }},
   {"mark": {"type": "errorbar", "ticks": true, "size": 8, "thickness": 1, "color": "#222222"},
    "encoding": {
     "x": {"field": "cat", "type": "nominal", "sort": ["SKMEL2","SKLMS1","SKUT1"]},
     "xOffset": {"field": "g", "type": "nominal", "sort": ["WT","LTAT"]},
     "y": {"field": "v", "type": "quantitative", "title": "Percent ATP from Glycolysis"}, "yError": {"field": "e"}}},
   {"data": {"values": [{"cat":"SKMEL2","y":30.6,"txt":"***"},{"cat":"SKLMS1","y":18.6,"txt":"***"},{"cat":"SKUT1","y":31.7,"txt":"***"}]},
    "layer": [
     {"mark": {"type": "tick", "orient": "horizontal", "size": 33, "thickness": 1.5, "color": "#000000"},
      "encoding": {"x": {"field": "cat", "type": "nominal", "sort": ["SKMEL2","SKLMS1","SKUT1"]}, "y": {"field": "y", "type": "quantitative"}}},
     {"mark": {"type": "text", "fontSize": 12, "baseline": "alphabetic", "dy": 4, "color": "#000000"},
      "encoding": {"x": {"field": "cat", "type": "nominal", "sort": ["SKMEL2","SKLMS1","SKUT1"]}, "y": {"field": "y", "type": "quantitative"}, "text": {"field": "txt"}}}
    ]}
  ]
 },
 {
  "width": 297, "height": 180,
  "title": {"text": "D", "dx": -45, "offset": 2},
  "layer": [
   {"data": {"values": [{"x1":19.4,"x2":98.8,"y1":62.9,"y2":71.5,"txt":"Glycolytic","xc":59.1,"yc":67.2},{"x1":276,"x2":343,"y1":2.6,"y2":11,"txt":"Aerobic","xc":309.5,"yc":6.8}]},
    "layer": [
     {"mark": {"type": "rect", "fill": "#ffffff", "stroke": "#333333", "strokeWidth": 1},
      "encoding": {
       "x": {"field": "x1", "type": "quantitative", "scale": {"domain": [0, 350], "nice": false}, "axis": {"values": [0,50,100,150,200,250,300,350], "tickCount": 100, "format": "~g", "title": "OCR (pMoles/min)", "labelOverlap": false, "labelFontSize": 12.5, "titleFontSize": 11.5, "tickSize": 4, "labelPadding": 2, "titlePadding": 4}},
       "x2": {"field": "x2"},
       "y": {"field": "y1", "type": "quantitative", "scale": {"domain": [0, 70], "nice": false}, "axis": {"values": [0,10,20,30,40,50,60,70], "tickCount": 100, "format": "~g", "title": "ECAR (mpH/min)", "labelOverlap": false, "titleX": -35, "labelFontSize": 12.5, "titleFontSize": 11.5, "tickSize": 4, "labelPadding": 3}},
       "y2": {"field": "y2"}}},
     {"mark": {"type": "text", "fontSize": 11, "color": "#222222"},
      "encoding": {"x": {"field": "xc", "type": "quantitative"}, "y": {"field": "yc", "type": "quantitative"}, "text": {"field": "txt"}}}
    ]},
   {"data": {"values": [{"id":"a1","cell":"SKMEL2","x":63.6,"y":51.1,"x2":73,"y2":19.1},{"id":"a2","cell":"SKMEL2","x":85.4,"y":16.5,"x2":139.7,"y2":13},{"id":"a3","cell":"SKLMS1","x":140.5,"y":52.2,"x2":227,"y2":19.3},{"id":"a4","cell":"SKUT1","x":148.5,"y":61.3,"x2":227,"y2":41},{"id":"a5","cell":"SKUT1","x":239.4,"y":38.8,"x2":280,"y2":31.8}]},
    "layer": [
     {"mark": {"type": "rule", "strokeWidth": 1},
      "encoding": {"x": {"field": "x", "type": "quantitative"}, "y": {"field": "y", "type": "quantitative"}, "x2": {"field": "x2"}, "y2": {"field": "y2"},
       "color": {"field": "cell", "type": "nominal", "scale": {"domain": ["SKMEL2","SKLMS1","SKUT1"], "range": ["#4a80c4","#d04444","#9bbb59"]}, "legend": null}}},
     {"mark": {"type": "point", "shape": "M-1,-0.8L0,0L-1,0.8", "filled": false, "size": 64, "strokeWidth": 1, "opacity": 1},
      "encoding": {"x": {"field": "x2", "type": "quantitative"}, "y": {"field": "y2", "type": "quantitative"},
       "color": {"field": "cell", "type": "nominal", "legend": null},
       "angle": {"field": "id", "type": "nominal", "scale": {"type": "ordinal", "domain": ["a1","a2","a3","a4","a5","l1","l2","l3","l4","l5","l6"], "range": [84,11,49,38,27.5,84,11,49,38,27.5,0]}, "legend": null}}}
    ]},
   {"data": {"name": "d"}, "transform": [{"filter": "datum.ye > 0"}],
    "mark": {"type": "errorbar", "ticks": true, "size": 6, "thickness": 1, "color": "#444444"},
    "encoding": {"x": {"field": "x", "type": "quantitative", "title": "OCR (pMoles/min)"}, "y": {"field": "y", "type": "quantitative", "title": "ECAR (mpH/min)"}, "yError": {"field": "ye"}}},
   {"data": {"name": "d"}, "transform": [{"filter": "datum.xe > 0"}],
    "mark": {"type": "errorbar", "ticks": true, "size": 6, "thickness": 1, "color": "#444444"},
    "encoding": {"y": {"field": "y", "type": "quantitative", "title": "ECAR (mpH/min)"}, "x": {"field": "x", "type": "quantitative", "title": "OCR (pMoles/min)"}, "xError": {"field": "xe"}}},
   {"data": {"name": "d"},
    "mark": {"type": "point", "filled": true, "opacity": 1},
    "encoding": {"x": {"field": "x", "type": "quantitative"}, "y": {"field": "y", "type": "quantitative"},
     "color": {"field": "cell", "type": "nominal", "legend": null},
     "shape": {"field": "cond", "type": "nominal", "scale": {"domain": ["WT","+ADI","LTAT"], "range": ["circle","diamond","square"]}, "legend": null},
     "size": {"field": "cond", "type": "nominal", "scale": {"type": "ordinal", "domain": ["WT","+ADI","LTAT"], "range": [75,45,75]}, "legend": null}}},
   {"data": {"values": [{"id":"l1","x":76.4,"y":35.6,"txt":"+ADI"},{"id":"l2","x":110.2,"y":17.4,"txt":"LTAT"},{"id":"l3","x":189,"y":36.9,"txt":"+ADI"},{"id":"l4","x":188.2,"y":53.7,"txt":"+ADI"},{"id":"l5","x":261.5,"y":36.9,"txt":"LTAT"},{"id":"l6","x":256,"y":15.3,"txt":"LTAT"}]},
    "mark": {"type": "text", "fontSize": 11, "color": "#222222"},
    "encoding": {"x": {"field": "x", "type": "quantitative"}, "y": {"field": "y", "type": "quantitative"}, "text": {"field": "txt"},
     "angle": {"field": "id", "type": "nominal", "scale": {"type": "ordinal", "domain": ["a1","a2","a3","a4","a5","l1","l2","l3","l4","l5","l6"], "range": [84,11,49,38,27.5,84,11,49,38,27.5,0]}, "legend": null}}},
   {"data": {"values": [{"cond":"WT","x":318,"y":63.2,"tx":334,"txt":"WT"},{"cond":"+ADI","x":318,"y":57.5,"tx":333,"txt":"+ADI"},{"cond":"LTAT","x":318,"y":51.4,"tx":334,"txt":"LTAT"}]},
    "layer": [
     {"mark": {"type": "point", "filled": false, "size": 90, "strokeWidth": 1, "color": "#222222", "opacity": 1},
      "encoding": {"x": {"field": "x", "type": "quantitative"}, "y": {"field": "y", "type": "quantitative"}, "shape": {"field": "cond", "type": "nominal", "legend": null}}},
     {"mark": {"type": "text", "fontSize": 13.5, "align": "left", "color": "#222222"},
      "encoding": {"x": {"field": "tx", "type": "quantitative"}, "y": {"field": "y", "type": "quantitative"}, "text": {"field": "txt"}}}
    ]},
   {"data": {"values": [{"cell":"SKMEL2","x":312,"y":43.5},{"cell":"SKLMS1","x":312,"y":36.7},{"cell":"SKUT1","x":312,"y":30.1}]},
    "mark": {"type": "text", "fontSize": 13.5, "align": "left"},
    "encoding": {"x": {"field": "x", "type": "quantitative"}, "y": {"field": "y", "type": "quantitative"}, "text": {"field": "cell"}, "color": {"field": "cell", "type": "nominal", "legend": null}}}
  ]
 }
]
}
